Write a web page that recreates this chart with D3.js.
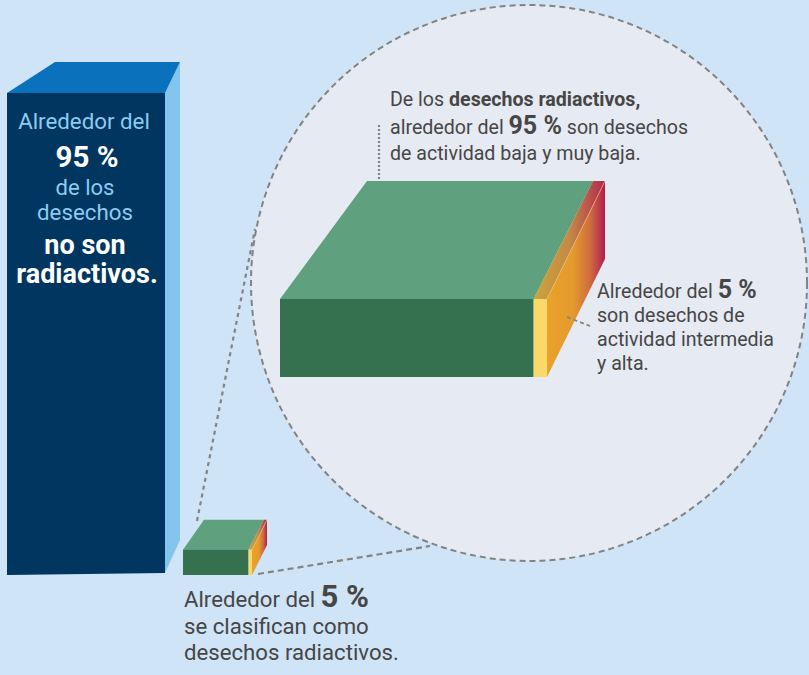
<!DOCTYPE html>
<html>
<head>
<meta charset="utf-8">
<script src="https://cdn.jsdelivr.net/npm/d3@7"></script>
<style>
html,body{margin:0;padding:0;background:#cfe4f6;}
svg{display:block;font-family:Roboto, "Noto Sans", sans-serif;}
</style>
</head>
<body>
<script>
// ---- data ----
const categories = ["No radiactivos", "Radiactivos"];
const shares = [95, 5];                       // % of all waste
const subCategories = ["Actividad baja y muy baja", "Actividad intermedia y alta"];
const subShares = [95, 5];                    // % of radioactive waste

const W = 809, H = 675;
const svg = d3.select("body").append("svg").attr("width", W).attr("height", H);

svg.append("rect").attr("width", W).attr("height", H).attr("fill", "#cfe4f6");

const defs = svg.append("defs");
function grad(id, stops) {
  const g = defs.append("linearGradient").attr("id", id)
    .attr("x1", "0").attr("y1", "0").attr("x2", "1").attr("y2", "0");
  stops.forEach(s => g.append("stop").attr("offset", s[0]).attr("stop-color", s[1]));
}
grad("sideGrad", [[0, "#e9a229"], [0.45, "#e49a2d"], [0.75, "#cf6a40"], [1, "#b01f50"]]);
grad("topGrad", [[0, "#caa43c"], [0.5, "#c48a45"], [1, "#b0284f"]]);

// ---- zoom circle ----
const cx = 529, cy = 283, cr = 278;
svg.append("circle").attr("cx", cx).attr("cy", cy).attr("r", cr)
  .attr("fill", "#e6eaf2").attr("stroke", "#838383").attr("stroke-width", 2)
  .attr("stroke-dasharray", "6 4");

// connector lines
svg.append("line").attr("x1", 197).attr("y1", 521).attr("x2", 255).attr("y2", 229)
  .attr("stroke", "#838383").attr("stroke-width", 2.2).attr("stroke-dasharray", "4 4");
svg.append("line").attr("x1", 258).attr("y1", 574).attr("x2", 430).attr("y2", 546)
  .attr("stroke", "#838383").attr("stroke-width", 2.2).attr("stroke-dasharray", "6 4");

const poly = pts => "M" + pts.map(p => p.join(",")).join("L") + "Z";

// ---- main scale: share of all waste -> bar height ----
const y = d3.scaleLinear().domain([0, 95]).range([575, 93]);

// tall bar (no radiactivos)
{
  const x0 = 7, x1 = 165, yb = y(0), yt = y(shares[0]);
  const dL = [48, -31], dR = [15, -31];
  svg.append("path").attr("d", poly([[x1, yt], [x1 + dR[0], yt + dR[1]], [x1 + dR[0], yb - 35], [x1, yb - 2]]))
    .attr("fill", "#84c5ee");
  svg.append("path").attr("d", poly([[x0, yt], [x0 + dL[0], yt + dL[1]], [x1 + dR[0], yt + dR[1]], [x1, yt]]))
    .attr("fill", "#0a72bc");
  svg.append("path").attr("d", poly([[x0, yt], [x1, yt], [x1, yb - 2], [x0, yb]]))
    .attr("fill", "#00365f");
}

// generic 3D stacked block drawer
function block(x0, x1, yt, yb, dL, dR, vals) {
  const xs = d3.scaleLinear().domain([0, d3.sum(vals)]).range([x0, x1]);
  const back = fx => fx + dL[0] + (fx - x0) / (x1 - x0) * (dR[0] - dL[0]);
  const split = xs(vals[0]);
  svg.append("path").attr("d", poly([[x1, yt], [x1 + dR[0], yt + dR[1]], [x1 + dR[0], yb + dR[1]], [x1, yb]]))
    .attr("fill", "url(#sideGrad)");
  svg.append("path").attr("d", poly([[x0, yt], [back(x0), yt + dL[1]], [back(split), yt + dL[1]], [split, yt]]))
    .attr("fill", "#5fa07e");
  svg.append("path").attr("d", poly([[split, yt], [back(split), yt + dL[1]], [back(x1), yt + dL[1]], [x1, yt]]))
    .attr("fill", "url(#topGrad)");
  svg.append("line").attr("x1", x1).attr("y1", yt).attr("x2", x1 + dR[0]).attr("y2", yt + dR[1])
    .attr("stroke", "#f3cf80").attr("stroke-width", 0.7).attr("opacity", 0.8);
  svg.append("rect").attr("x", x0).attr("y", yt).attr("width", split - x0).attr("height", yb - yt).attr("fill", "#35714f");
  svg.append("rect").attr("x", split).attr("y", yt).attr("width", x1 - split).attr("height", yb - yt).attr("fill", "#fad86a");
}

// small bar (radiactivos) uses the same height scale
block(183, 252, y(shares[1]), y(0), [21, -30], [15, -30], subShares);

// zoomed block inside circle
block(280, 547, 299, 377, [87, -118], [58, -118], subShares);

// dotted pointer to top text
svg.append("line").attr("x1", 379).attr("y1", 125).attr("x2", 379).attr("y2", 181)
  .attr("stroke", "#838383").attr("stroke-width", 2.2).attr("stroke-dasharray", "2 2");
// pointer to the 5 % text
svg.append("line").attr("x1", 567).attr("y1", 317).attr("x2", 590).attr("y2", 326)
  .attr("stroke", "#838383").attr("stroke-width", 1.8).attr("stroke-dasharray", "4 3");

// ---- texts ----
function textLine(x, yy, parts, opts) {
  const t = svg.append("text").attr("x", x).attr("y", yy)
    .attr("text-anchor", opts.anchor || "start").attr("fill", opts.fill)
    .attr("font-size", opts.size);
  parts.forEach(p => {
    const ts = t.append("tspan").text(p.t);
    if (p.b) ts.attr("font-weight", "bold");
    if (p.s) ts.attr("font-size", p.s);
    if (p.f) ts.attr("fill", p.f);
  });
  return t;
}

// tall bar labels
const lb = "#8ccbf0";
textLine(84, 129, [{ t: "Alrededor del" }], { anchor: "middle", fill: lb, size: 22.3 });
textLine(87, 167, [{ t: shares[0] + " %", b: true }], { anchor: "middle", fill: "#ffffff", size: 29.5 });
textLine(85, 195, [{ t: "de los" }], { anchor: "middle", fill: lb, size: 22 });
textLine(85, 220, [{ t: "desechos" }], { anchor: "middle", fill: lb, size: 22.3 });
textLine(85, 254, [{ t: "no son", b: true }], { anchor: "middle", fill: "#ffffff", size: 27 });
textLine(87, 283, [{ t: "radiactivos.", b: true }], { anchor: "middle", fill: "#ffffff", size: 27 });

// bottom label
const tg = "#464646";
textLine(184, 607, [{ t: "Alrededor del " }, { t: shares[1] + " %", b: true, s: 31 }], { fill: tg, size: 22.2 });
textLine(184, 634, [{ t: "se clasifican como" }], { fill: tg, size: 22.2 });
textLine(184, 660, [{ t: "desechos radiactivos." }], { fill: tg, size: 22.2 });

// circle top label
textLine(390, 106, [{ t: "De los " }, { t: "desechos radiactivos,", b: true }], { fill: tg, size: 19.6 });
textLine(390, 134, [{ t: "alrededor del " }, { t: subShares[0] + " %", b: true, s: 25 }, { t: " son desechos" }], { fill: tg, size: 19.6 });
textLine(390, 160, [{ t: "de actividad baja y muy baja." }], { fill: tg, size: 19.6 });

// circle right label
textLine(597, 298, [{ t: "Alrededor del " }, { t: subShares[1] + " %", b: true, s: 25 }], { fill: tg, size: 19.6 });
textLine(597, 322, [{ t: "son desechos de" }], { fill: tg, size: 19.6 });
textLine(597, 346, [{ t: "actividad intermedia" }], { fill: tg, size: 19.6 });
textLine(597, 370, [{ t: "y alta." }], { fill: tg, size: 19.6 });
</script>
</body>
</html>
